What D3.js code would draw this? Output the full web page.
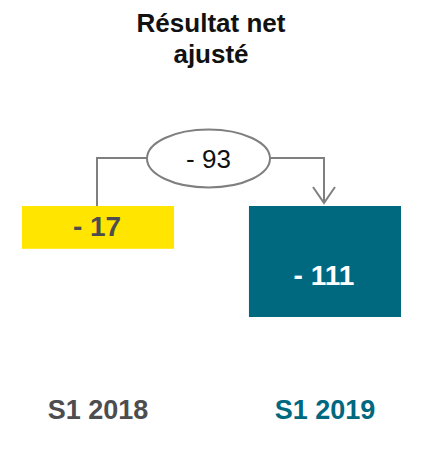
<!DOCTYPE html>
<html>
  <head>
    <meta charset="utf-8">
    <title>Résultat net ajusté</title>
    <script src="https://cdn.jsdelivr.net/npm/d3@7"></script>
    <style>
      body { margin: 0; background: #fff; }
      .title { font-family: 'Liberation Sans', Arial, sans-serif; font-size: 26px; font-weight: bold; text-anchor: middle; fill: #111; }
      .bar_label { font-family: 'Liberation Sans', Arial, sans-serif; font-size: 28px; font-weight: bold; text-anchor: middle; }
      .cat_label { font-family: 'Liberation Sans', Arial, sans-serif; font-size: 27px; font-weight: bold; text-anchor: middle; }
      .delta { font-family: 'Liberation Sans', Arial, sans-serif; font-size: 26px; text-anchor: middle; fill: #111; }
      .connector { fill: none; stroke: #7f7f7f; stroke-width: 2px; }
    </style>
  </head>
  <body>
    <script>
      // data
      var periods = ['S1 2018', 'S1 2019'];
      var values = [-17, -111];
      var delta = -93;
      var barColors = ['#ffe500', '#00687f'];
      var labelColors = ['#4d4d4f', '#ffffff'];
      var catColors = ['#4d4d4f', '#00687f'];

      var width = 424, height = 454;
      var baseY = 206;

      var svg = d3.select('body').append('svg')
        .attr('width', width)
        .attr('height', height);

      var xScale = d3.scaleBand()
        .domain(periods)
        .range([22, 401])
        .paddingInner(0.33)
        .paddingOuter(0);

      // schematic scale, bars hang down from a common top
      var yScale = d3.scaleLinear()
        .domain([42, -111])
        .range([baseY, 317]);

      // title
      var titles = svg.append('g');
      titles.append('text').attr('class', 'title').attr('x', 211).attr('y', 32).text('Résultat net');
      titles.append('text').attr('class', 'title').attr('x', 211).attr('y', 63).text('ajusté');

      // bars
      svg.selectAll('.bar')
        .data(values)
        .enter()
        .append('rect')
        .attr('class', 'bar')
        .attr('x', function(d, i) { return xScale(periods[i]); })
        .attr('y', baseY)
        .attr('width', xScale.bandwidth())
        .attr('height', function(d) { return yScale(d) - baseY; })
        .style('fill', function(d, i) { return barColors[i]; });

      svg.selectAll('.bar_label')
        .data(values)
        .enter()
        .append('text')
        .attr('class', 'bar_label')
        .attr('x', function(d, i) { return xScale(periods[i]) + xScale.bandwidth() / 2 - 1; })
        .attr('y', function(d) { return baseY + (yScale(d) - baseY) * 0.71; })
        .style('fill', function(d, i) { return labelColors[i]; })
        .text(function(d) { return '- ' + Math.abs(d); });

      // category labels
      svg.selectAll('.cat_label')
        .data(periods)
        .enter()
        .append('text')
        .attr('class', 'cat_label')
        .attr('x', function(d) { return xScale(d) + xScale.bandwidth() / 2; })
        .attr('y', 419)
        .style('fill', function(d, i) { return catColors[i]; })
        .text(function(d) { return d; });

      // connector with ellipse
      var lineY = 158;
      var leftX = 97, rightX = 324;
      var cx = 208.5, rx = 61.5, ry = 29;

      svg.append('path')
        .attr('class', 'connector')
        .attr('d', 'M' + leftX + ',' + baseY + ' V' + lineY + ' H' + (cx - rx));
      svg.append('path')
        .attr('class', 'connector')
        .attr('d', 'M' + (cx + rx) + ',' + lineY + ' H' + rightX + ' V' + (baseY - 3));
      svg.append('path')
        .attr('class', 'connector')
        .attr('d', 'M' + (rightX - 11) + ',' + (baseY - 19) + ' L' + rightX + ',' + (baseY - 3) + ' L' + (rightX + 11) + ',' + (baseY - 19));

      svg.append('ellipse')
        .attr('cx', cx)
        .attr('cy', lineY + 0.5)
        .attr('rx', rx)
        .attr('ry', ry)
        .style('fill', '#fff')
        .style('stroke', '#7f7f7f')
        .style('stroke-width', 2);

      svg.append('text')
        .attr('class', 'delta')
        .attr('x', cx)
        .attr('y', lineY + 10)
        .text('- ' + Math.abs(delta));
    </script>
  </body>
</html>
